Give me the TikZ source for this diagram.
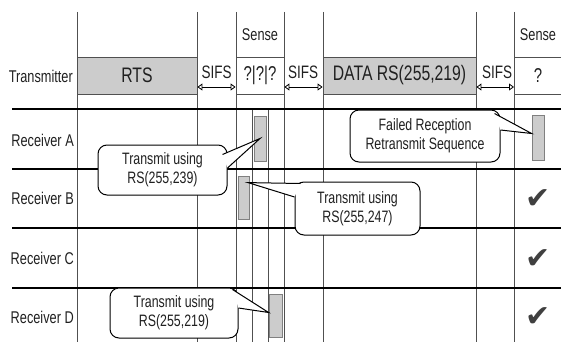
\documentclass[tikz,border=0pt]{standalone}
\usepackage{fontspec}
\setmainfont[FakeStretch=0.75]{Liberation Sans}
\newfontfamily\symfont{DejaVu Sans}
\usepackage{tikz}
\usetikzlibrary{arrows.meta, calc}

\definecolor{slotgray}{HTML}{CCCCCC}
\definecolor{linegray}{HTML}{505050}
\definecolor{inkgray}{HTML}{202020}

\begin{document}
\begin{tikzpicture}[x=1pt, y=-1pt,
  >={Triangle[open, length=5pt, width=7pt]},
  colline/.style={linegray, line width=0.9pt},
  rowline/.style={black, line width=1.2pt},
  lbl/.style={font=\fontsize{17}{19}\selectfont, text=inkgray, inner sep=0pt},
  big/.style={font=\fontsize{21}{23}\selectfont, text=inkgray, inner sep=0pt},
  slot/.style={draw=linegray, fill=slotgray, line width=0.8pt, minimum height=37pt, inner sep=0pt},
  bar/.style={draw=gray, fill=slotgray, line width=0.8pt, inner sep=0pt},
  bubble/.style={draw=black, fill=white, line width=1pt, rounded corners=9pt, align=center,
    font=\fontsize{16.5}{19}\selectfont, text=inkgray, inner sep=0pt},
  okmark/.style={font=\symfont\fontsize{30}{30}\selectfont, text=black!75, inner sep=0pt}]
  \useasboundingbox (0,0) rectangle (561,342);

  % Colonnes
  \foreach \x in {77,197,236,284,323,476,514}
    \draw[colline] (\x,12) -- (\x,342);
  \foreach \x in {252,268}
    \draw[colline] (\x,109) -- (\x,342);

  % Lignes
  \foreach \y in {109,169,228,288}
    \draw[rowline] (12,\y) -- (561,\y);

  % Emetteur
  \node[lbl, anchor=east] (tx) at (73,76) {Transmitter};
  \node[slot, minimum width=120pt, big] (rts) at (137,75.5) {RTS};
  \node[draw=linegray, line width=0.8pt, minimum width=48pt, minimum height=37pt,
    font=\fontsize{20}{22}\selectfont, text=inkgray, inner sep=0pt] (probe) at (260,75.5) {?|?|?};
  \node[slot, minimum width=153pt, big] (data) at (399.5,75.5) {DATA RS(255,219)};
  \draw[colline] (514,57) -- (561,57);
  \draw[colline] (514,94) -- (561,94);
  \node[font=\fontsize{20}{22}\selectfont, text=inkgray, inner sep=0pt] (ack) at (538,76) {?};
  \node[lbl] (senseA) at (260,35) {Sense};
  \node[lbl] (senseB) at (538,35) {Sense};

  % SIFS
  \node[lbl, font=\fontsize{18}{20}\selectfont] (sifsA) at (216.5,72) {SIFS};
  \node[lbl, font=\fontsize{18}{20}\selectfont] (sifsB) at (303,72) {SIFS};
  \node[lbl, font=\fontsize{18}{20}\selectfont] (sifsC) at (497,72) {SIFS};
  \draw[<->, line width=0.8pt] ([yshift=-11.5pt]rts.east) -- ([yshift=-11.5pt]probe.west);
  \draw[<->, line width=0.8pt] ([yshift=-11.5pt]probe.east) -- ([yshift=-11.5pt]data.west);
  \draw[<->, line width=0.8pt] ([yshift=-11.5pt]data.east) -- (514,87);

  % Recepteurs
  \node[lbl, anchor=east] (rxA) at (74,140) {Receiver A};
  \node[lbl, anchor=east] (rxB) at (74,198) {Receiver B};
  \node[lbl, anchor=east] (rxC) at (74,258) {Receiver C};
  \node[lbl, anchor=east] (rxD) at (74,317) {Receiver D};

  % Salves
  \node[bar, minimum width=12pt, minimum height=45pt] (barA) at (260,138.5) {};
  \node[bar, minimum width=11pt, minimum height=43pt] (barB) at (244,197.5) {};
  \node[bar, minimum width=13pt, minimum height=43pt] (barD) at (275.5,315.5) {};
  \node[bar, minimum width=12pt, minimum height=45pt] (barF) at (538,137.5) {};

  % Bulles
  \node[bubble, minimum width=129pt, minimum height=50pt] (noteA) at (162.5,170) {Transmit using\\RS(255,239)};
  \fill[white] ([xshift=-5pt,yshift=-10pt]noteA.north east) -- (barA.center) -- ([yshift=2pt]noteA.east) -- cycle;
  \draw[line width=1pt] ([xshift=-5pt,yshift=-10pt]noteA.north east) -- (barA.center) -- ([yshift=2pt]noteA.east);

  \node[bubble, minimum width=125pt, minimum height=53pt] (noteB) at (357.5,208.5) {Transmit using\\RS(255,247)};
  \fill[white] ([xshift=6pt,yshift=-2pt]noteB.north west) -- ([xshift=4pt,yshift=-7pt]barB.north) -- ([yshift=11.5pt]noteB.west) -- cycle;
  \draw[line width=1pt] ([xshift=6pt,yshift=-2pt]noteB.north west) -- ([xshift=4pt,yshift=-7pt]barB.north) -- ([yshift=11.5pt]noteB.west);

  \node[bubble, minimum width=150pt, minimum height=52pt] (noteC) at (425,136) {Failed Reception\\Retransmit Sequence};
  \fill[white] ([xshift=-6pt,yshift=-4pt]noteC.north east) -- ([yshift=4pt]barF.west) -- ([yshift=6pt]noteC.east) -- cycle;
  \draw[line width=1pt] ([xshift=-6pt,yshift=-4pt]noteC.north east) -- ([yshift=4pt]barF.west) -- ([yshift=6pt]noteC.east);

  \node[bubble, minimum width=128pt, minimum height=50pt] (noteD) at (174,313) {Transmit using\\RS(255,219)};
  \fill[white] ([xshift=-6pt,yshift=-2pt]noteD.north east) -- ([yshift=3pt]barD.west) -- ([yshift=5pt]noteD.east) -- cycle;
  \draw[line width=1pt] ([xshift=-6pt,yshift=-2pt]noteD.north east) -- ([yshift=3pt]barD.west) -- ([yshift=5pt]noteD.east);

  % Acquittements
  \node[okmark] (okB) at (538,199) {✔};
  \node[okmark] (okC) at (538,259) {✔};
  \node[okmark] (okD) at (538,317) {✔};
\end{tikzpicture}
\end{document}
